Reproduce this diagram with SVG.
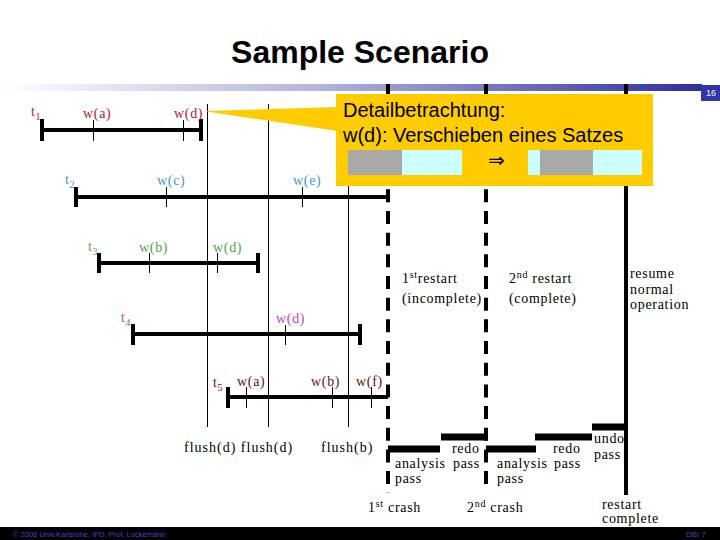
<svg xmlns="http://www.w3.org/2000/svg" width="720" height="540" viewBox="0 0 720 540">
<defs>
<linearGradient id="hdr" x1="0" y1="0" x2="1" y2="0">
<stop offset="0" stop-color="#ffffff"/>
<stop offset="0.45" stop-color="#b4b4de"/>
<stop offset="1" stop-color="#2e2e9e"/>
</linearGradient>
<style>
.lbl{font-family:"Liberation Serif","Times New Roman",serif;font-size:14px;letter-spacing:0.7px;fill:#000}
.tx{stroke:#000;stroke-width:4;fill:none}
.cap{stroke:#000;stroke-width:4;fill:none}
.tick{stroke:#000;stroke-width:1;fill:none}
.thin{stroke:#000;stroke-width:1;fill:none}
.dash{stroke:#000;stroke-width:4;fill:none;stroke-dasharray:13 8.67;stroke-dashoffset:3}
.solid{stroke:#000;stroke-width:4;fill:none}
.bar{stroke:#000;stroke-width:7;fill:none}
.c1{fill:#aa2233}.c2{fill:#3a98c8}.c3{fill:#4fa34f}.c4{fill:#c040c8}.c5{fill:#6a0f0f}
.call{font-family:"Liberation Sans",Arial,sans-serif;font-size:20px;fill:#000}
</style>
</defs>
<rect width="720" height="540" fill="#ffffff"/>
<g id="header">
<text x="360" y="63" text-anchor="middle" font-family="Liberation Sans, Arial, sans-serif" font-weight="bold" font-size="32" fill="#000">Sample Scenario</text>
<rect x="0" y="84" width="702" height="7" fill="url(#hdr)"/>
<rect x="701" y="85" width="19" height="16" fill="#3333aa"/>
<text x="711" y="96" text-anchor="middle" font-family="Liberation Sans, Arial, sans-serif" font-size="9" fill="#ffffff">16</text>
</g>
<g id="connectors">
<line class="thin" x1="207.5" y1="104" x2="207.5" y2="427"/>
<line class="thin" x1="268.5" y1="104" x2="268.5" y2="427"/>
<line class="thin" x1="348.5" y1="104" x2="348.5" y2="427"/>
<line class="dash" x1="388" y1="84" x2="388" y2="493"/>
<line class="dash" x1="486" y1="84" x2="486" y2="489"/>
<line class="solid" x1="626" y1="84" x2="626" y2="495"/>
</g>
<g id="t1">
<line class="tx" x1="42" y1="130" x2="201" y2="130"/>
<line class="cap" x1="42" y1="119" x2="42" y2="141"/>
<line class="cap" x1="201" y1="119" x2="201" y2="141"/>
<line class="tick" x1="93.5" y1="120" x2="93.5" y2="141"/>
<line class="tick" x1="183.5" y1="120" x2="183.5" y2="141"/>
<text class="lbl c1" x="31" y="116">t<tspan font-size="10" dy="4">1</tspan></text>
<text class="lbl c1" x="83" y="118">w(a)</text>
<text class="lbl c1" x="174" y="118">w(d)</text>
</g>
<g id="t2">
<line class="tx" x1="76" y1="197" x2="388" y2="197"/>
<line class="cap" x1="76" y1="187" x2="76" y2="207"/>
<line class="tick" x1="166.5" y1="187" x2="166.5" y2="207"/>
<line class="tick" x1="302.5" y1="187" x2="302.5" y2="207"/>
<text class="lbl c2" x="65" y="184">t<tspan font-size="10" dy="4">2</tspan></text>
<text class="lbl c2" x="157" y="185">w(c)</text>
<text class="lbl c2" x="293" y="185">w(e)</text>
</g>
<g id="t3">
<line class="tx" x1="99" y1="263" x2="258" y2="263"/>
<line class="cap" x1="99" y1="253" x2="99" y2="273"/>
<line class="cap" x1="258" y1="253" x2="258" y2="273"/>
<line class="tick" x1="149.5" y1="253" x2="149.5" y2="273"/>
<line class="tick" x1="217.5" y1="253" x2="217.5" y2="273"/>
<text class="lbl c3" x="88" y="251">t<tspan font-size="10" dy="4">3</tspan></text>
<text class="lbl c3" x="139" y="252">w(b)</text>
<text class="lbl c3" x="213" y="252">w(d)</text>
</g>
<g id="t4">
<line class="tx" x1="133" y1="334" x2="360" y2="334"/>
<line class="cap" x1="133" y1="324" x2="133" y2="345"/>
<line class="cap" x1="360" y1="324" x2="360" y2="345"/>
<line class="tick" x1="285.5" y1="325" x2="285.5" y2="345"/>
<text class="lbl c4" x="121" y="322">t<tspan font-size="10" dy="4">4</tspan></text>
<text class="lbl c4" x="276" y="323">w(d)</text>
</g>
<g id="t5">
<line class="tx" x1="228" y1="397" x2="388" y2="397"/>
<line class="cap" x1="228" y1="387" x2="228" y2="408"/>
<line class="tick" x1="246.5" y1="387" x2="246.5" y2="408"/>
<line class="tick" x1="332.5" y1="387" x2="332.5" y2="408"/>
<line class="tick" x1="371.5" y1="387" x2="371.5" y2="408"/>
<text class="lbl c5" x="213" y="387">t<tspan font-size="10" dy="4">5</tspan></text>
<text class="lbl c5" x="237" y="386">w(a)</text>
<text class="lbl c5" x="311" y="386">w(b)</text>
<text class="lbl c5" x="356" y="386">w(f)</text>
</g>
<g id="flushes">
<text class="lbl" x="184" y="452" style="letter-spacing:1px">flush(d) flush(d)</text>
<text class="lbl" x="321" y="452" style="letter-spacing:1px">flush(b)</text>
</g>
<g id="callout">
<polygon points="203,111 337,107 337,131" fill="#ffcc00"/>
<rect x="336" y="94" width="317" height="92" fill="#ffcc00"/>
<text class="call" x="343" y="117">Detailbetrachtung:</text>
<text class="call" x="343" y="142">w(d): Verschieben eines Satzes</text>
<rect x="348" y="150" width="54" height="25" fill="#a9a9a9"/>
<rect x="402" y="150" width="60" height="25" fill="#ccffff"/>
<text x="488" y="167" font-family="DejaVu Sans, sans-serif" font-size="20" fill="#000">⇒</text>
<rect x="528" y="150" width="114" height="25" fill="#ccffff"/>
<rect x="540" y="150" width="53" height="25" fill="#a9a9a9"/>
</g>
<g id="restart-labels">
<text class="lbl" x="402" y="283">1<tspan font-size="10" dy="-5">st</tspan><tspan dy="5">restart</tspan></text>
<text class="lbl" x="402" y="303">(incomplete)</text>
<text class="lbl" x="509" y="283">2<tspan font-size="10" dy="-5">nd</tspan><tspan dy="5"> restart</tspan></text>
<text class="lbl" x="509" y="303">(complete)</text>
<text class="lbl" x="630" y="278">resume</text>
<text class="lbl" x="630" y="294">normal</text>
<text class="lbl" x="630" y="309">operation</text>
</g>
<g id="restart1">
<line class="bar" x1="388" y1="449" x2="440" y2="449"/>
<line class="bar" x1="441" y1="437" x2="488" y2="437"/>
<text class="lbl" x="452" y="453">redo</text>
<text class="lbl" x="395" y="468">analysis</text>
<text class="lbl" x="453" y="468">pass</text>
<text class="lbl" x="395" y="483">pass</text>
</g>
<g id="restart2">
<line class="bar" x1="486" y1="449" x2="536" y2="449"/>
<line class="bar" x1="535" y1="437" x2="592" y2="437"/>
<line class="bar" x1="592" y1="427" x2="626" y2="427"/>
<text class="lbl" x="553" y="453">redo</text>
<text class="lbl" x="497" y="468">analysis</text>
<text class="lbl" x="554" y="468">pass</text>
<text class="lbl" x="497" y="483">pass</text>
<text class="lbl" x="594" y="443">undo</text>
<text class="lbl" x="594" y="459">pass</text>
</g>
<g id="crash-labels">
<text class="lbl" x="368" y="512">1<tspan font-size="10" dy="-5">st</tspan><tspan dy="5"> crash</tspan></text>
<text class="lbl" x="467" y="512">2<tspan font-size="10" dy="-5">nd</tspan><tspan dy="5"> crash</tspan></text>
<text class="lbl" x="602" y="509">restart</text>
<text class="lbl" x="602" y="523">complete</text>
</g>
<g id="footer">
<rect x="0" y="527" width="720" height="13" fill="#000"/>
<text x="13" y="537" font-family="Liberation Sans, Arial, sans-serif" font-size="7.5" fill="#4444cc">© 2008 Univ.Karlsruhe, IPD, Prof. Lockemann</text>
<text x="686" y="537" font-family="Liberation Sans, Arial, sans-serif" font-size="8" fill="#4444aa">DBI 7</text>
</g>
</svg>
